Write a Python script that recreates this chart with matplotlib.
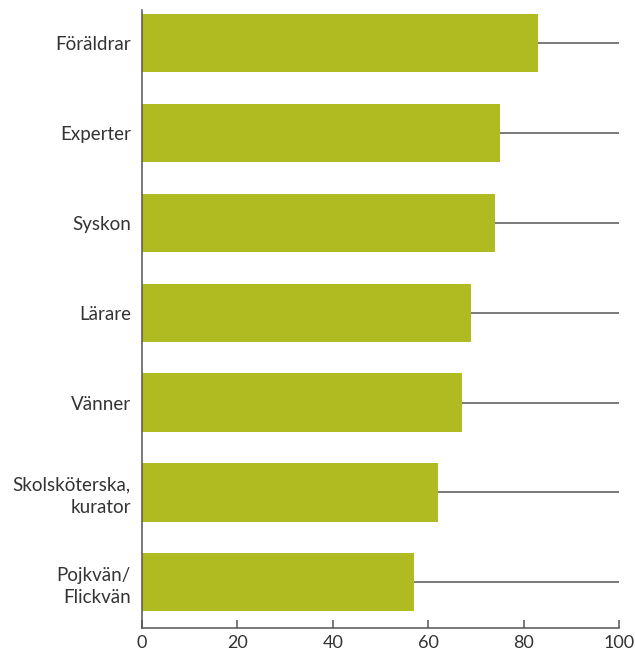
import matplotlib.pyplot as plt
import numpy as np

categories = ["Föräldrar", "Experter", "Syskon", "Lärare", "Vänner",
              "Skolsköterska,\nkurator", "Pojkvän/\nFlickvän"]
values = [83, 75, 74, 69, 67, 62, 57]
xticks = [0, 20, 40, 60, 80, 100]

BAR_COLOR = "#afbb20"
TEXT_COLOR = "#333333"
LINE_COLOR = "#555555"

plt.rcParams["font.family"] = ["Lato", "DejaVu Sans"]

fig = plt.figure(figsize=(6.35, 6.54), dpi=100)
ax = fig.add_axes([0.2236, 0.0398, 0.7512, 0.9449])

y = np.arange(len(categories))[::-1]
for yi in y:
    ax.axhline(yi, color=LINE_COLOR, lw=1.1, zorder=1)
ax.barh(y, values, height=0.65, color=BAR_COLOR, zorder=2)

ax.set_xlim(0, 100)
ax.set_ylim(-0.51, 6.37)
ax.set_xticks(xticks)
ax.set_xticklabels([str(t) for t in xticks], fontsize=13, color=TEXT_COLOR)
ax.set_yticks(y)
ax.set_yticklabels(categories, fontsize=13.5, color=TEXT_COLOR, linespacing=1.35)
ax.tick_params(axis="x", direction="in", length=6, width=1.1, color=LINE_COLOR, pad=5)
ax.tick_params(axis="y", length=0, pad=8)

for s in ["top", "right"]:
    ax.spines[s].set_visible(False)
for s in ["left", "bottom"]:
    ax.spines[s].set_color(LINE_COLOR)
    ax.spines[s].set_linewidth(1.1)

fig.savefig("out.png", dpi=100)
